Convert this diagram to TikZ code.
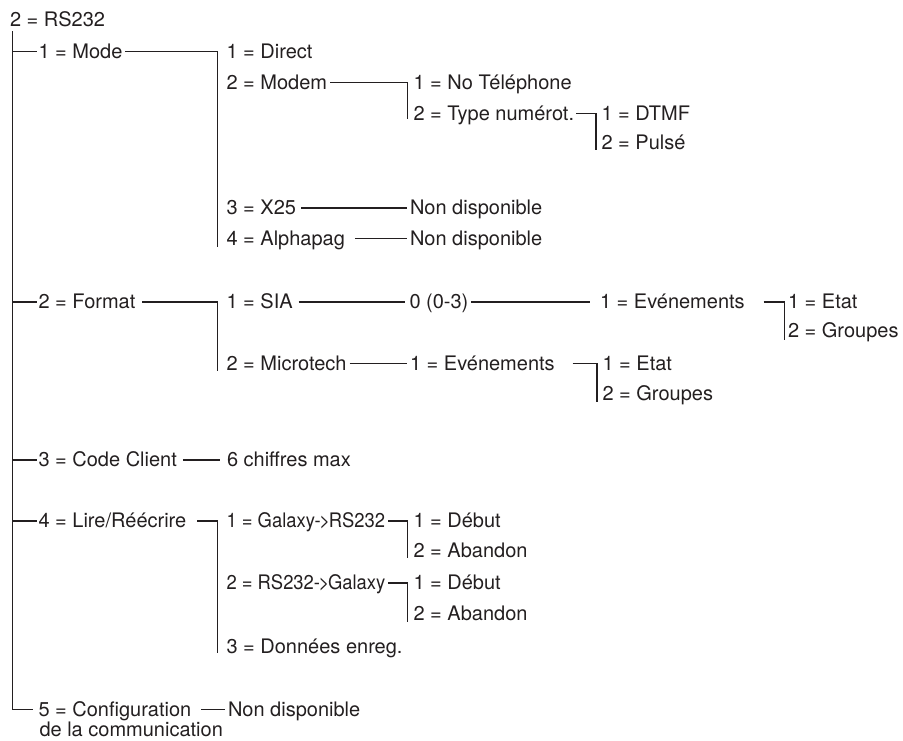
\documentclass[tikz,border=0pt]{standalone}
\usepackage{graphicx}
\usepackage{fontspec}
\setmainfont{TeX Gyre Heros}
\definecolor{ink}{RGB}{35,31,32}
\newcommand{\arr}{-\kern-1.5pt>\kern-1.5pt}
\newcommand{\cond}[1]{\scalebox{0.92}[1]{#1}}
\begin{document}
\begin{tikzpicture}[x=1pt,y=-1pt,
  lbl/.style={anchor=base west, inner sep=0pt, outer sep=0pt, text=ink, font=\fontsize{20}{24}\selectfont},
  ln/.style={draw=ink, line width=1.35pt}]
\useasboundingbox (0,0) rectangle (903,740);
% level 0/1
\node[lbl] (root)   at (10,26.5)   {2 = RS232};
\node[lbl] (mode)   at (38.5,58)   {1 = Mode};
\node[lbl] (format) at (38.5,308.5) {2 = Format};
\node[lbl] (code)   at (38.5,466.5) {3 = Code Client};
\node[lbl] (lire)   at (38.5,527.5) {4 = Lire/Réécrire};
\node[lbl] (conf)   at (38.5,716)  {5 = Configuration};
\node[lbl] (conf2)  at (39.5,736.5)  {de la communication};
% mode subtree
\node[lbl] (direct) at (226.5,58)  {1 = Direct};
\node[lbl] (modem)  at (226.5,89)  {2 = Modem};
\node[lbl] (tel)    at (413.5,89)  {1 = No Téléphone};
\node[lbl] (type)   at (413.5,120) {2 = Type numérot.};
\node[lbl] (dtmf)   at (601.5,120) {1 = DTMF};
\node[lbl] (pulse)  at (601.5,149) {2 = Pulsé};
\node[lbl] (x25)    at (226.5,214.5) {3 = X25};
\node[lbl] (nd1)    at (410,214.5) {Non disponible};
\node[lbl] (alpha)  at (226.5,245) {4 = Alphapag};
\node[lbl] (nd2)    at (410,245)   {Non disponible};
% format subtree
\node[lbl] (sia)    at (226.5,308.5) {1 = SIA};
\node[lbl] (sia0)   at (409.5,308.5) {0 (0-3)};
\node[lbl] (evt1)   at (600,308.5) {1 = Evénements};
\node[lbl] (etat1)  at (788,308.5) {1 = Etat};
\node[lbl] (grp1)   at (788,337)   {2 = Groupes};
\node[lbl] (micro)  at (226.5,370) {2 = Microtech};
\node[lbl] (evt2)   at (410,370)   {1 = Evénements};
\node[lbl] (etat2)  at (602.5,370) {1 = Etat};
\node[lbl] (grp2)   at (602.5,400) {2 = Groupes};
% code
\node[lbl] (chif)   at (227,466.5) {6 chiffres max};
% lire subtree
\node[lbl] (gal1)   at (226.5,527.5) {\cond{1 = Galaxy\arr RS232}};
\node[lbl] (deb1)   at (413.5,527.5) {1 = Début};
\node[lbl] (ab1)    at (413.5,557)   {2 = Abandon};
\node[lbl] (gal2)   at (226.5,589.5) {\cond{2 = RS232\arr Galaxy}};
\node[lbl] (deb2)   at (413.5,589.5) {1 = Début};
\node[lbl] (ab2)    at (413.5,620)   {2 = Abandon};
\node[lbl] (don)    at (226.5,653)   {3 = Données enreg.};
% conf
\node[lbl] (nd3)    at (228,716)     {Non disponible};
% trunk
\coordinate (trunk) at ([shift={(2.5pt,-4.5pt)}]root.base west);
\draw[ln] (trunk) |- ([shift={(-1.8pt,6.5pt)}]mode.base west);
\draw[ln] (trunk) |- ([shift={(-1.8pt,6.5pt)}]format.base west);
\draw[ln] (trunk) |- ([shift={(-1.8pt,6.5pt)}]code.base west);
\draw[ln] (trunk) |- ([shift={(-1.8pt,6.5pt)}]lire.base west);
\draw[ln] (trunk) |- ([shift={(-5.5pt,6.5pt)}]conf.base west);
% mode
\draw[ln] ([shift={(3pt,6.5pt)}]mode.base east) -- ([shift={(-9pt,6.5pt)}]direct.base west) -- ([shift={(-9pt,-1.5pt)}]alpha.base west);
\draw[ln] ([shift={(3pt,6.5pt)}]modem.base east) -- ([shift={(-6pt,6.5pt)}]tel.base west) -- ([shift={(-6pt,1pt)}]type.base west);
\draw[ln] ([shift={(2pt,6.5pt)}]type.base east) -- ([shift={(-5.5pt,6.5pt)}]dtmf.base west) -- ([shift={(-5.5pt,-1pt)}]pulse.base west);
\draw[ln] ([shift={(5pt,6.5pt)}]x25.base east) -- ([shift={(-3.3pt,6.5pt)}]nd1.base west);
\draw[ln] ([shift={(10pt,6.5pt)}]alpha.base east) -- ([shift={(-3.3pt,6.5pt)}]nd2.base west);
% format
\draw[ln] ([shift={(7pt,6.5pt)}]format.base east) -- ([shift={(-9pt,6.5pt)}]sia.base west) -- ([shift={(-9pt,-1pt)}]micro.base west);
\draw[ln] ([shift={(6pt,6.5pt)}]sia.base east) -- ([shift={(-4.5pt,6.5pt)}]sia0.base west);
\draw[ln] ([shift={(3pt,6.5pt)}]sia0.base east) -- ([shift={(-10pt,6.5pt)}]evt1.base west);
\draw[ln] ([shift={(19pt,6.5pt)}]evt1.base east) -- ([shift={(-3.5pt,6.5pt)}]etat1.base west) -- ([shift={(-3.5pt,-2.5pt)}]grp1.base west);
\draw[ln] ([shift={(3pt,6.5pt)}]micro.base east) -- ([shift={(-3pt,6.5pt)}]evt2.base west);
\draw[ln] ([shift={(18pt,6.5pt)}]evt2.base east) -- ([shift={(-5.5pt,6.5pt)}]etat2.base west) -- ([shift={(-5.5pt,-1.7pt)}]grp2.base west);
% code
\draw[ln] ([shift={(6pt,6.5pt)}]code.base east) -- ([shift={(-7pt,6.5pt)}]chif.base west);
% lire
\draw[ln] ([shift={(11pt,6.5pt)}]lire.base east) -- ([shift={(-9pt,6.5pt)}]gal1.base west) -- ([shift={(-9pt,0pt)}]don.base west);
\draw[ln] ([shift={(3pt,6.5pt)}]gal1.base east) -- ([shift={(-6pt,6.5pt)}]deb1.base west) -- ([shift={(-6pt,-1pt)}]ab1.base west);
\draw[ln] ([shift={(3pt,6.5pt)}]gal2.base east) -- ([shift={(-6pt,6.5pt)}]deb2.base west) -- ([shift={(-6pt,-1.7pt)}]ab2.base west);
% conf
\draw[ln] ([shift={(10pt,6.5pt)}]conf.base east) -- ([shift={(-3pt,6.5pt)}]nd3.base west);
\end{tikzpicture}
\end{document}
